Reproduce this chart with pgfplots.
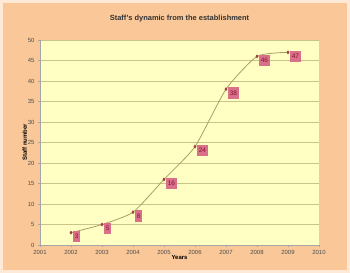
\documentclass[border=0pt]{standalone}
\usepackage{pgfplots}
\pgfplotsset{compat=1.18}
\usepackage{fontspec}
\setmainfont{Liberation Sans}
\definecolor{peach}{HTML}{FAC898}
\definecolor{plotbg}{HTML}{FFFFC4}
\definecolor{gridc}{HTML}{C8C48A}
\definecolor{linec}{HTML}{A8A060}
\definecolor{markc}{HTML}{A04040}
\definecolor{boxc}{HTML}{D8708A}
\definecolor{txtc}{HTML}{8A1030}
\begin{document}
\begin{tikzpicture}
\path[use as bounding box] (-40bp,-28bp) rectangle (310bp,245bp);
\fill[white!60!peach] (-40bp,-28bp) rectangle (310bp,245bp);
\fill[peach] (-37bp,-25bp) rectangle (307bp,242bp);
\begin{axis}[
  scale only axis, width=279bp, height=205bp,
  xmin=2001, xmax=2010, ymin=0, ymax=50,
  xtick={2001,...,2010}, ytick={0,5,...,50},
  axis background/.style={fill=plotbg},
  axis line style={draw=gray!70},
  axis x line*=bottom, axis y line*=left,
  ymajorgrids, grid style={gridc, line width=0.6pt},
  tick style={gray!70}, tick align=outside, major tick length=2bp,
  xtick pos=bottom, ytick pos=left,
  x tick label style={/pgf/number format/1000 sep={}, font=\fontsize{6}{7}\selectfont, text=black!70},
  y tick label style={font=\fontsize{6}{7}\selectfont, text=black!70},
  /pgf/number format/assume math mode=true,
  xlabel={Years}, ylabel={Staff number},
  xlabel style={font=\bfseries\fontsize{6}{7}\selectfont, yshift=6bp},
  ylabel style={font=\bfseries\fontsize{6}{7}\selectfont, yshift=-6bp},
  title={Staff's dynamic from the establishment},
  title style={font=\bfseries\fontsize{7.5}{9}\selectfont, text=black!80, yshift=8bp},
  clip=false,
]
\addplot[linec, line width=0.8pt, smooth, tension=0.35, mark=diamond*, mark size=1.3pt,
  mark options={fill=markc, draw=markc},
  nodes near coords,
  every node near coord/.append style={fill=boxc, text=txtc, font=\fontsize{6.5}{7}\selectfont,
    inner xsep=1.5pt, inner ysep=3.5pt, anchor=west, xshift=2bp, yshift=-4bp}]
coordinates {(2002,3) (2003,5) (2004,8) (2005,16) (2006,24) (2007,38) (2008,46) (2009,47)};
\end{axis}
\end{tikzpicture}
\end{document}
